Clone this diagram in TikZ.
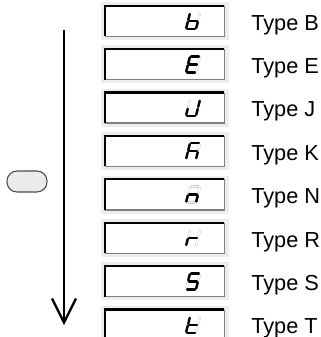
\documentclass[tikz,border=0pt]{standalone}
\usepackage{fontspec}
\setmainfont{Liberation Sans}
\usetikzlibrary{arrows.meta}

\tikzset{
  panel/.style={fill=black!7, minimum width=96pt, minimum height=28.5pt, inner sep=0pt},
  dispbox/.style={fill=white, minimum width=89.25pt, minimum height=22.5pt, inner sep=0pt},
  segoff/.style={draw=black!22, double=white, line width=0.3pt, double distance=1.2pt, line cap=round},
  segon/.style={line width=1.8pt, line cap=round, shorten <=0.8pt, shorten >=0.8pt},
  typelabel/.style={anchor=base west, inner sep=0pt, font=\fontsize{16.3pt}{19pt}\selectfont},
}

\begin{document}
\begin{tikzpicture}[x=0.75pt, y=-0.75pt]
  \useasboundingbox (0,0) rectangle (321,337);
  % selector key and scroll direction
  \node[draw=black!70, fill=black!8, line width=0.8pt, rounded corners=7.5pt,
        minimum width=30pt, minimum height=15.75pt, inner sep=0pt] (key) at (27,181.5) {};
  \coordinate (arrtop) at (64,30);
  \coordinate (arrbot) at (64,325);
  \draw[line width=1.7pt, -{Straight Barb[length=18pt, width=18pt]}] (arrtop) -- (arrbot);
  % one row per thermocouple type
  \foreach \i/\t/\segs in {0/B/{1/3,3/5,5/6,4/6,3/4},
                           1/E/{1/2,1/3,3/4,3/5,5/6},
                           2/J/{2/4,4/6,5/6,3/5},
                           3/K/{1/2,1/3,3/5,3/4,4/6},
                           4/N/{3/5,3/4,4/6},
                           5/R/{3/5,3/4},
                           6/S/{1/2,1/3,3/4,4/6,5/6},
                           7/T/{1/3,3/5,3/4,5/6}}{
    \pgfmathsetmacro\cy{21+43.4*\i}
    \node[panel] (pan-\t) at (165,\cy) {};
    \node[dispbox] (disp-\t) at (164.5,\cy) {};
    \draw[black!50, line width=1.1pt] (disp-\t.north east) -- (disp-\t.south east) -- (disp-\t.south west);
    \draw[line width=1.6pt] (disp-\t.south west) -- (disp-\t.north west) -- (disp-\t.north east);
    % seven segment digit
    \begin{scope}[shift={(186,\cy+8)}, y=0.75pt, xslant=0.25]
      \coordinate (p1) at (0,16);
      \coordinate (p2) at (10,16);
      \coordinate (p3) at (0,8);
      \coordinate (p4) at (10,8);
      \coordinate (p5) at (0,0);
      \coordinate (p6) at (10,0);
      \foreach \u/\v in {1/2,2/4,4/6,5/6,3/5,1/3,3/4}
        \draw[segoff, shorten <=1pt, shorten >=1pt] (p\u) -- (p\v);
      \foreach \u/\v in \segs
        \draw[segon] (p\u) -- (p\v);
    \end{scope}
    \node[typelabel] (lab-\t) at (251,\cy+9) {Type \t};
  }
\end{tikzpicture}
\end{document}
